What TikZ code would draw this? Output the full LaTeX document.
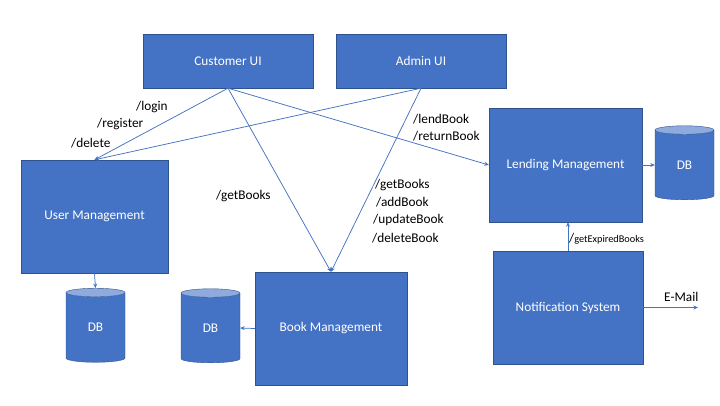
\documentclass[tikz,border=0pt]{standalone}
\usepackage{fontspec}
\setmainfont{Carlito}
\usetikzlibrary{arrows.meta,shapes.geometric}
\definecolor{boxblue}{HTML}{4472C4}
\definecolor{edgeblue}{HTML}{2F528F}
\definecolor{topblue}{HTML}{8FAADC}
\begin{document}
\begin{tikzpicture}[x=1pt,y=-1pt,
    block/.style={draw=edgeblue,fill=boxblue,text=white,inner sep=0pt,
      font=\fontsize{13.3}{15}\selectfont},
    store/.style={cylinder,shape border rotate=90,aspect=0.55,draw=edgeblue,
      cylinder uses custom fill,cylinder body fill=boxblue,cylinder end fill=topblue,
      text=white,minimum width=59pt,minimum height=74pt,inner sep=0pt,
      font=\fontsize{13.3}{15}\selectfont},
    flow/.style={draw=boxblue,line width=0.75pt,-{Stealth[length=4.5pt,width=4pt]}},
    lbl/.style={anchor=west,inner sep=0pt,font=\fontsize{13.3}{15}\selectfont}]
    \useasboundingbox (0,0) rectangle (720,405) ;
    % boxes
    \node[block,minimum width=170pt,minimum height=54pt] (cust) at (228,61) {Customer UI} ;
    \node[block,minimum width=170pt,minimum height=54pt] (admin) at (421,61) {Admin UI} ;
    \node[block,minimum width=147pt,minimum height=113pt] (user) at (94.5,216.5) {User Management} ;
    \node[block,minimum width=153pt,minimum height=114pt] (lend) at (565.5,165) {Lending Management} ;
    \node[block,minimum width=150pt,minimum height=113pt] (notif) at (568,307.5) {Notification System} ;
    \node[block,minimum width=152pt,minimum height=113pt] (book) at (331,328.5) {Book Management} ;
    % databases
    \node[store] (userdb) at (95.5,327.5) {DB} ;
    \node[store] (bookdb) at (210.5,328) {DB} ;
    \node[store] (lenddb) at (684.5,165) {DB} ;
    % connectors
    \draw[flow] (cust.south) -- (user.north) ;
    \draw[flow] (admin.south) -- (user.north) ;
    \draw[flow] (cust.south) -- (book.north) ;
    \draw[flow] (admin.south) -- (book.north) ;
    \draw[flow] (cust.south) -- (lend.west) ;
    \draw[flow] (lend.east) -- (lenddb.180) ;
    \draw[flow] (user.south) -- (userdb.90) ;
    \draw[flow] (book.west) -- (bookdb.0) ;
    \draw[flow] (notif.north) -- (notif.north |- lend.south) ;
    \coordinate (mail) at (698,307.5) ;
    \draw[flow] (notif.east) -- (mail) ;
    % labels
    \node[lbl] (login) at (136,107) {/login} ;
    \node[lbl] (register) at (97,124) {/register} ;
    \node[lbl] (delete) at (71,143) {/delete} ;
    \node[lbl] (custget) at (216,196) {/getBooks} ;
    \node[lbl] (adminget) at (375,185) {/getBooks} ;
    \node[lbl] (addbook) at (376,202) {/addBook} ;
    \node[lbl] (updbook) at (373,220) {/updateBook} ;
    \node[lbl] (delbook) at (372,238) {/deleteBook} ;
    \node[lbl] (lendbook) at (413,119) {/lendBook} ;
    \node[lbl] (retbook) at (413,136) {/returnBook} ;
    \node[lbl] (expired) at (569,239) {/{\fontsize{10.3}{12}\selectfont getExpiredBooks}} ;
    \node[lbl] (email) at (664,297) {E-Mail} ;
\end{tikzpicture}
\end{document}
